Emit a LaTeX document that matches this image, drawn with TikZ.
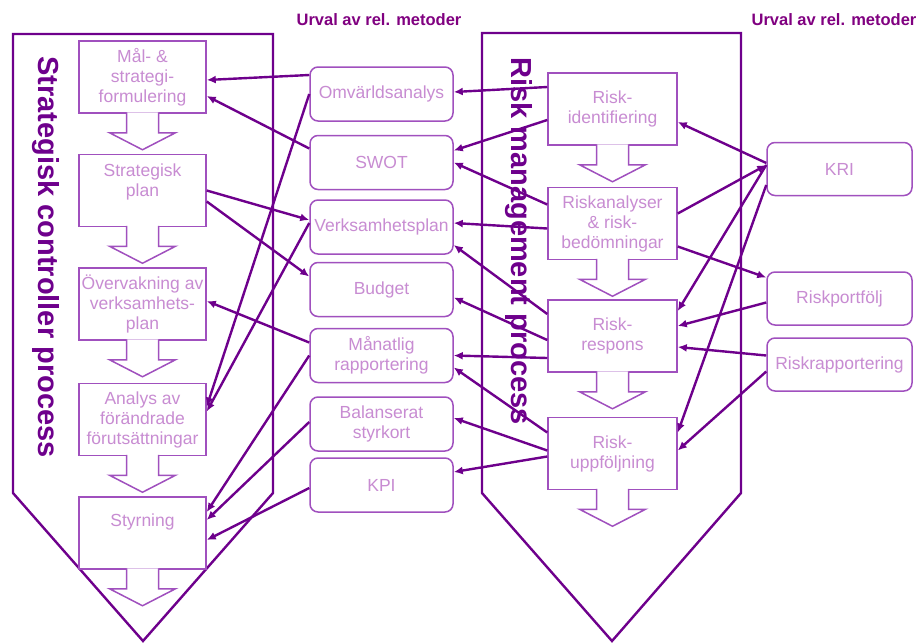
\documentclass[tikz,border=0pt]{standalone}
\usepackage{fontspec}
\setmainfont{Liberation Sans}
\usetikzlibrary{arrows.meta, calc, positioning}

\definecolor{vpurple}{HTML}{6E008C}
\definecolor{tpurple}{HTML}{800080}
\definecolor{bpurple}{HTML}{A050BE}
\definecolor{lpurple}{HTML}{C88CD2}

\begin{document}
\begin{tikzpicture}[
    x=1pt,
    y=-1pt,
    font=\fontsize{17.5}{20}\selectfont,
    proc/.style={
        rectangle,
        draw=bpurple,
        line width=1.5pt,
        fill=white,
        text=lpurple,
        align=center,
        minimum width=127pt,
        minimum height=72pt,
        inner sep=1pt
    },
    meth/.style={
        rectangle,
        rounded corners=8pt,
        draw=bpurple,
        line width=1.5pt,
        fill=white,
        text=lpurple,
        align=center,
        minimum width=143pt,
        minimum height=54pt,
        inner sep=1pt
    },
    parr/.style={
        draw=bpurple,
        line width=1.5pt,
        fill=white
    },
    lnk/.style={
        -{Latex[length=9pt,width=8pt]},
        line width=2.4pt,
        vpurple
    },
    chev/.style={
        draw=vpurple,
        line width=2.4pt,
        line join=miter
    },
    hd/.style={
        text=tpurple,
        font=\fontsize{16.5}{20}\selectfont\bfseries
    },
    vtitle/.style={
        text=vpurple,
        rotate=-90,
        inner sep=0pt,
        font=\fontsize{29}{32}\selectfont\bfseries
    }
]

\useasboundingbox (0,0) rectangle (923,643);

% Stora processpilar
\draw[chev] (13,34) -- (273,34) -- (273,493) -- (143,641) -- (13,493) -- cycle;
\draw[chev] (482,33) -- (741,33) -- (741,493) -- (612,641) -- (482,493) -- cycle;

\node[vtitle] (tsc) at (46,257) {Strategisk controller process};
\node[vtitle] (trm) at (518.5,241) {Risk management process};

% Rubriker
\node[hd] (h1) at (379,20) {Urval av rel. metoder};
\node[hd] (h2) at (834,20) {Urval av rel. metoder};

% Strategisk controller process
\node[proc] (sc1) at (142.5,77) {Mål- \&\\strategi-\\formulering};
\node[proc, below=40pt of sc1] (sc2) {Strategisk\\plan\\\mbox{}};
\node[proc, below=40pt of sc2] (sc3) {Övervakning av\\verksamhets-\\plan};
\node[proc, below=42pt of sc3] (sc4) {Analys av\\förändrade\\förutsättningar};
\node[proc, below=40pt of sc4] (sc5) {Styrning\\[6pt]};

% Risk management process
\node[proc, minimum width=129pt] (ri) at (612.5,109) {Risk-\\identifiering};
\node[proc, minimum width=129pt, below=41pt of ri] (ra) {Riskanalyser\\\& risk-\\bedömningar};
\node[proc, minimum width=129pt, below=39pt of ra] (rr) {Risk-\\respons};
\node[proc, minimum width=129pt, below=44pt of rr] (ru) {Risk-\\uppföljning};

% Stegpilar
\foreach \n in {sc1,sc2,sc3,sc4,sc5,ri,ra,rr,ru} {
    \filldraw[parr]
        ($(\n.south)+(-16,-1.5)$) -- ++(0,20.5) -- ++(-17,0)
        -- ($(\n.south)+(0,36)$) -- ++(33,-17) -- ++(-17,0)
        -- ($(\n.south)+(16,-1.5)$);
}

% Metoder
\node[meth] (om) at (381.5,94) {Omvärldsanalys};
\node[meth] (sw) at (381.5,162.5) {SWOT};
\node[meth] (vp) at (381.5,227) {Verksamhetsplan};
\node[meth] (bu) at (381.5,289.5) {Budget};
\node[meth] (mr) at (381.5,355.5) {Månatlig\\rapportering};
\node[meth] (bs) at (381.5,424) {Balanserat\\styrkort};
\node[meth] (kpi) at (381.5,485) {KPI};

\node[meth, minimum width=145pt, minimum height=53pt] (kri) at (839.5,169) {KRI};
\node[meth, minimum width=145pt, minimum height=53pt] (rp) at (839.5,298.5) {Riskportfölj};
\node[meth, minimum width=145pt, minimum height=53pt] (rk) at (839.5,364.5) {Riskrapportering};

% Kopplingar
\foreach \a/\da/\b/\db in {
    om.west/-19/sc1.east/3,
    sw.west/-14/sc1.east/19,
    sc2.east/0/vp.west/-7,
    sc2.east/11/bu.west/-13,
    mr.west/-13/sc3.east/-3,
    om.west/0/sc4.east/-13,
    vp.west/-4/sc4.east/-8,
    mr.west/0/sc5.east/-21,
    bs.west/-2/sc5.east/-13,
    kpi.west/3/sc5.east/7,
    ri.west/-22/om.east/-2,
    ri.west/11/sw.east/-12,
    ra.west/-19/sw.east/0,
    ra.west/5/vp.east/-4,
    rr.west/-22/vp.east/18,
    rr.west/4/bu.east/8,
    rr.west/22/mr.east/0,
    ru.west/-21/mr.east/12,
    ru.west/-3/bs.east/-6,
    ru.west/3/kpi.east/-13,
    kri.west/-6/ri.east/13,
    ra.east/-10/kri.west/-4,
    kri.west/-4/rr.east/-25,
    kri.west/16/ru.east/-21,
    rp.west/4/rr.east/-10,
    ra.east/23/rp.west/-21,
    rk.west/-9/rr.east/11,
    rk.west/7/ru.east/-3} {
    \draw[lnk] ($(\a)+(0,\da)$) -- ($(\b)+(0,\db)$);
}

\end{tikzpicture}
\end{document}
